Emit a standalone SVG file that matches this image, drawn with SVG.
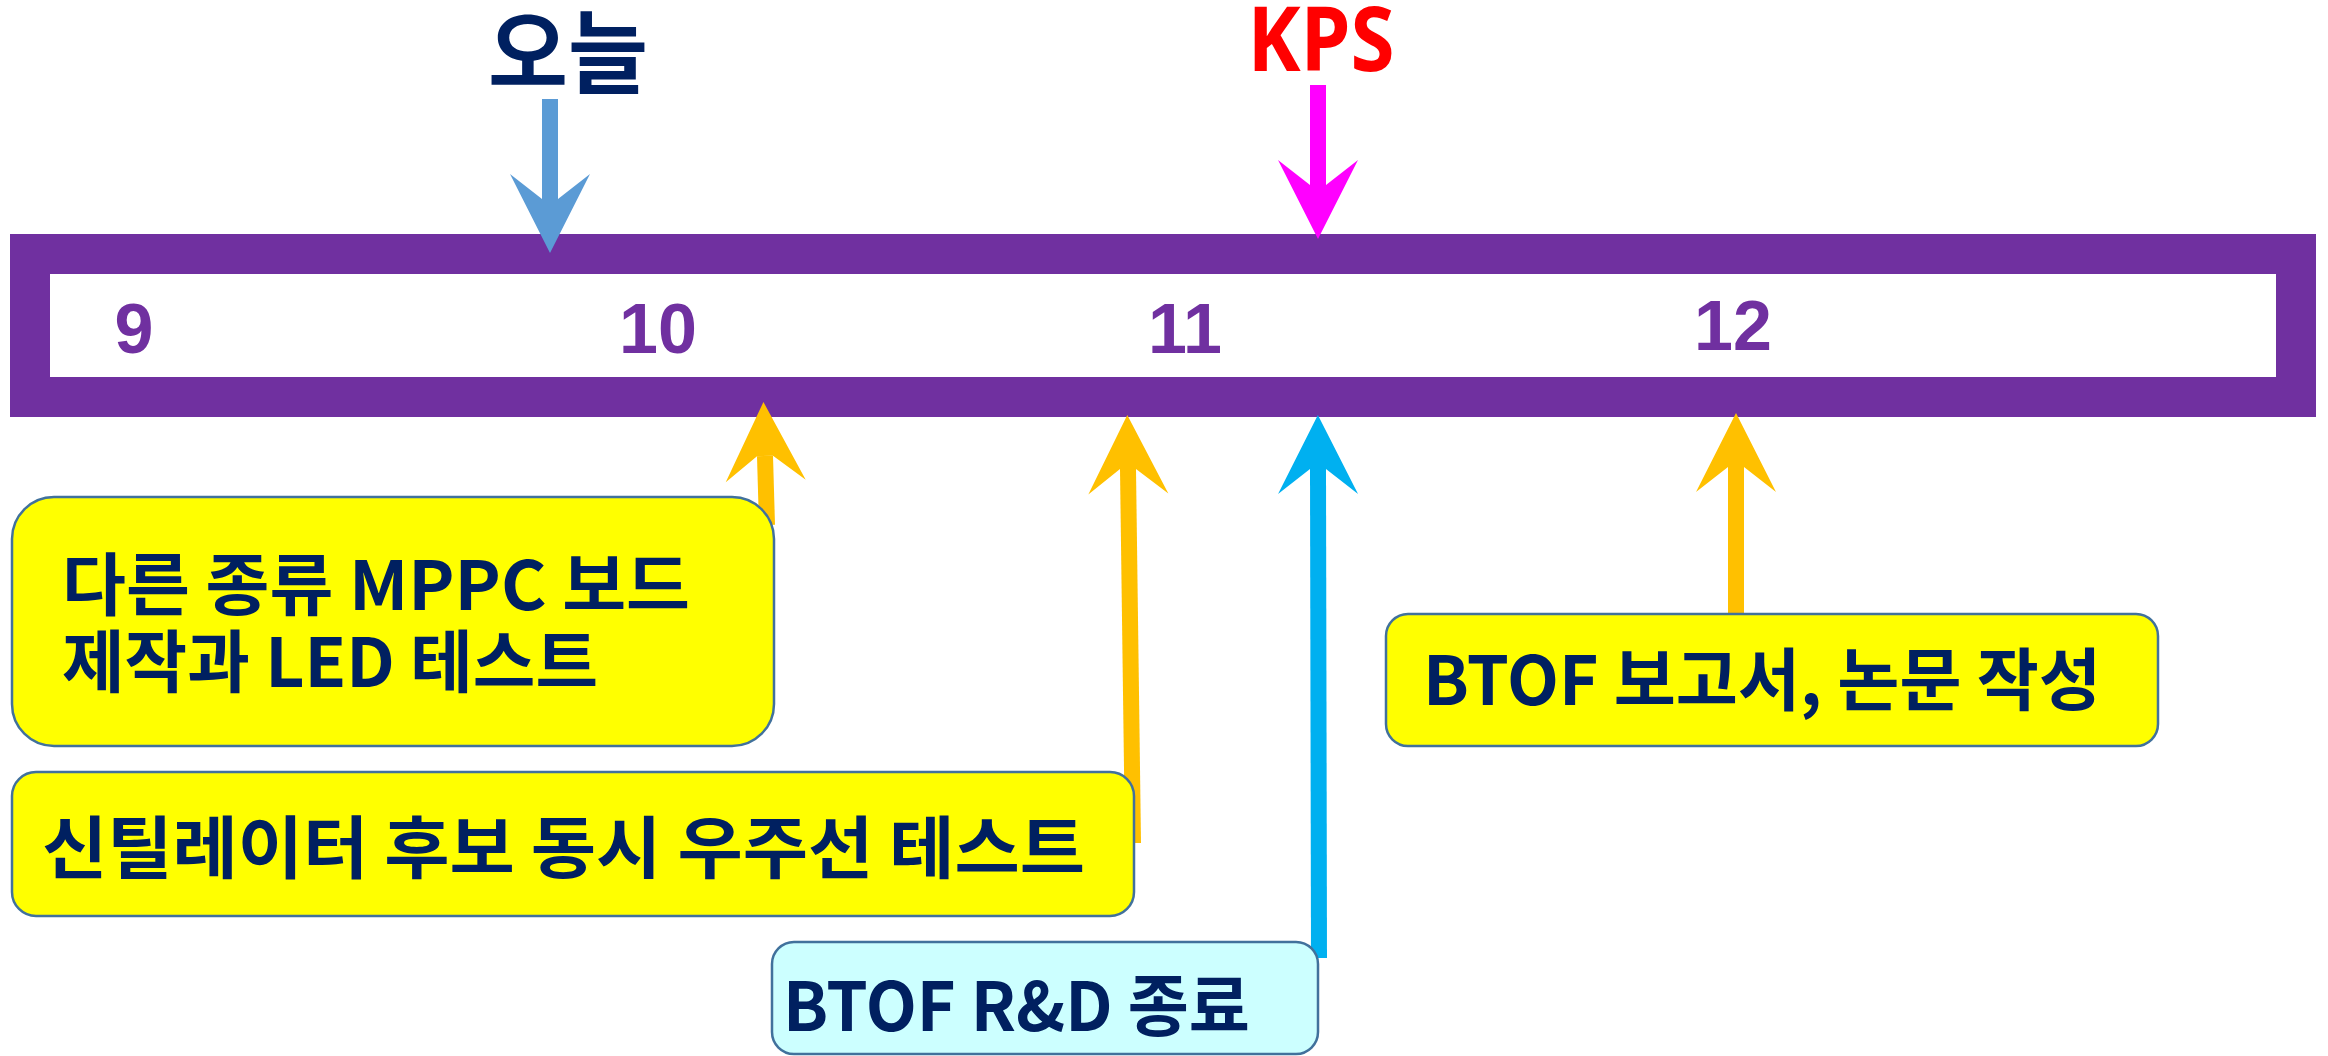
<svg xmlns="http://www.w3.org/2000/svg" width="2328" height="1056" viewBox="0 0 2328 1056">
<style>
.box{stroke:#41719C;stroke-width:2.5}
.yel{fill:#FFFF00}
.cy{fill:#CCFFFF}
.t{font-family:"Noto Sans CJK KR","Noto Sans",sans-serif;font-weight:700;fill:#002060}
.m{font-family:"Liberation Sans",Arial,sans-serif;font-weight:700;fill:#7030A0;font-size:70px;text-anchor:middle}
.sh{stroke-width:16;fill:none}
</style>
<defs>
<marker id="aBlue" markerUnits="userSpaceOnUse" orient="auto" overflow="visible" markerWidth="80" markerHeight="80" refX="0" refY="0"><path d="M54,0 L-25,-40 L0,-8 L0,8 L-25,40 Z" fill="#5B9BD5"/></marker>
<marker id="aMag" markerUnits="userSpaceOnUse" orient="auto" overflow="visible" markerWidth="80" markerHeight="80" refX="0" refY="0"><path d="M54,0 L-25,-40 L0,-8 L0,8 L-25,40 Z" fill="#FF00FF"/></marker>
<marker id="aGold" markerUnits="userSpaceOnUse" orient="auto" overflow="visible" markerWidth="80" markerHeight="80" refX="0" refY="0"><path d="M54,0 L-25,-40 L0,-8 L0,8 L-25,40 Z" fill="#FFC000"/></marker>
<marker id="aCyan" markerUnits="userSpaceOnUse" orient="auto" overflow="visible" markerWidth="80" markerHeight="80" refX="0" refY="0"><path d="M54,0 L-25,-40 L0,-8 L0,8 L-25,40 Z" fill="#00B0F0"/></marker>
</defs>
<rect width="2328" height="1056" fill="#FFFFFF"/>
<g id="timeline">
<rect x="30" y="254" width="2266" height="143" fill="none" stroke="#7030A0" stroke-width="40"/>
<text class="m" x="134" y="353">9</text>
<text class="m" x="658" y="353">10</text>
<text class="m" x="1185" y="353">11</text>
<text class="m" x="1733" y="350">12</text>
</g>
<g id="today">
<text class="t" x="568" y="86" font-size="90" text-anchor="middle" textLength="160" lengthAdjust="spacingAndGlyphs">오늘</text>
</g>
<g id="kps">
<text x="1321" y="71" font-family="'Noto Sans','Liberation Sans',sans-serif" font-weight="700" font-size="89" fill="#FF0000" text-anchor="middle" textLength="147" lengthAdjust="spacingAndGlyphs">KPS</text>
</g>
<g id="connectors">
<line class="sh" x1="550" y1="99" x2="550" y2="199" stroke="#5B9BD5" marker-end="url(#aBlue)"/>
<line class="sh" x1="1318" y1="85" x2="1318" y2="185" stroke="#FF00FF" marker-end="url(#aMag)"/>
<line class="sh" x1="767" y1="525" x2="765" y2="456" stroke="#FFC000" marker-end="url(#aGold)"/>
<line class="sh" x1="1133" y1="843" x2="1128" y2="469" stroke="#FFC000" marker-end="url(#aGold)"/>
<line class="sh" x1="1319" y1="958" x2="1318" y2="469" stroke="#00B0F0" marker-end="url(#aCyan)"/>
<line class="sh" x1="1736" y1="616" x2="1736" y2="467" stroke="#FFC000" marker-end="url(#aGold)"/>
</g>
<g id="box-mppc">
<rect class="box yel" x="12" y="497" width="762" height="249" rx="42"/>
<text class="t" font-size="68"><tspan x="62" y="610" textLength="628" lengthAdjust="spacingAndGlyphs">다른 종류 MPPC 보드</tspan><tspan x="62" y="687" textLength="536" lengthAdjust="spacingAndGlyphs">제작과 LED 테스트</tspan></text>
</g>
<g id="box-scint">
<rect class="box yel" x="12" y="772" width="1122" height="144" rx="24"/>
<text class="t" x="42" y="873" font-size="68" textLength="1043" lengthAdjust="spacingAndGlyphs">신틸레이터 후보 동시 우주선 테스트</text>
</g>
<g id="box-report">
<rect class="box yel" x="1386" y="614" width="772" height="132" rx="22"/>
<text class="t" x="1423" y="705" font-size="68" textLength="678" lengthAdjust="spacingAndGlyphs">BTOF 보고서, 논문 작성</text>
</g>
<g id="box-end">
<rect class="box cy" x="772" y="942" width="546" height="112" rx="22"/>
<text class="t" x="783" y="1031" font-size="68" textLength="467" lengthAdjust="spacingAndGlyphs">BTOF R&amp;D 종료</text>
</g>
</svg>
